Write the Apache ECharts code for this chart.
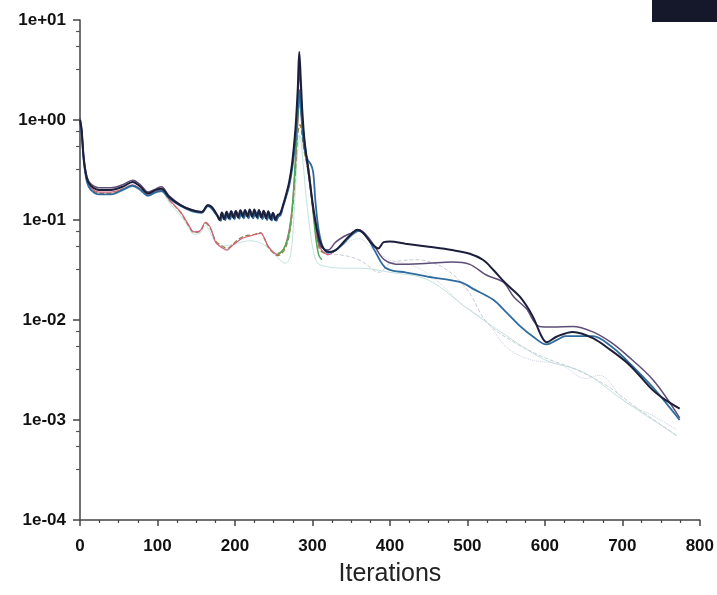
<!DOCTYPE html>
<html><head><meta charset="utf-8">
<script src="https://cdn.jsdelivr.net/npm/echarts@6/dist/echarts.min.js"></script>
<style>html,body{margin:0;padding:0;background:#fff}#c{width:717px;height:595px}</style>
</head><body><div id="c"></div>
<script>
// Residual curves: [iteration, residual]
const darkRes = [[0,1.0],[2,0.8],[5,0.4],[9,0.26],[14,0.22],[25,0.2],[40,0.2],[55,0.215],[68,0.24],[78,0.215],[88,0.185],[98,0.2],[105,0.205],[115,0.17],[130,0.14],[145,0.125],[157,0.12],[165,0.14],[170,0.135],[177,0.112],
 [180,0.1],[183,0.118],[186,0.102],[189,0.12],[192,0.104],[195,0.122],[198,0.105],[201,0.123],[204,0.106],[207,0.125],[210,0.108],[213,0.126],[216,0.108],[219,0.127],[222,0.108],[225,0.127],[228,0.107],[231,0.126],[234,0.106],[237,0.124],[240,0.104],[243,0.122],[246,0.102],[249,0.118],[252,0.1],[255,0.112],
 [258,0.115],[262,0.14],[266,0.18],[270,0.24],[274,0.38],[278,0.8],[281,2.0],[283,4.8],[285,2.5],[287,1.2],[290,0.6],[294,0.35],[298,0.2],[302,0.12],[306,0.08],[310,0.06],[316,0.05],[322,0.048],[330,0.05],[340,0.06],[350,0.072],[358,0.08],[365,0.075],[375,0.06],[385,0.052],[392,0.06],[400,0.061],[420,0.058],[450,0.054],[480,0.05],[503,0.046],[520,0.04],[533,0.032],[550,0.023],[568,0.017],[584,0.011],[596,0.0068],[602,0.006],[615,0.0068],[636,0.0076],[662,0.0066],[685,0.005],[705,0.0038],[720,0.0029],[739,0.002],[755,0.0016],[774,0.0013]];
const blueRes = [[0,0.95],[2,0.75],[5,0.38],[9,0.24],[14,0.2],[25,0.18],[40,0.18],[55,0.2],[68,0.22],[78,0.2],[88,0.175],[98,0.19],[105,0.195],[115,0.165],[130,0.138],[145,0.122],[157,0.118],[165,0.138],[170,0.13],[177,0.11],
 [181.5,0.098],[184.5,0.115],[187.5,0.1],[190.5,0.117],[193.5,0.101],[196.5,0.119],[199.5,0.102],[202.5,0.12],[205.5,0.103],[208.5,0.121],[211.5,0.104],[214.5,0.121],[217.5,0.104],[220.5,0.122],[223.5,0.104],[226.5,0.121],[229.5,0.103],[232.5,0.12],[235.5,0.102],[238.5,0.119],[241.5,0.1],[244.5,0.117],[247.5,0.099],[250.5,0.114],[253.5,0.098],[256,0.108],
 [259,0.112],[262,0.135],[266,0.17],[270,0.22],[274,0.33],[278,0.6],[281,1.2],[283,2.0],[285,1.4],[287,0.8],[290,0.5],[294,0.4],[298,0.36],[301,0.3],[304,0.15],[308,0.08],[313,0.055],[320,0.047],[330,0.05],[340,0.058],[350,0.07],[360,0.078],[370,0.068],[380,0.05],[393,0.034],[405,0.031],[420,0.03],[450,0.027],[490,0.024],[510,0.02],[533,0.016],[550,0.012],[568,0.0087],[585,0.0068],[602,0.0057],[615,0.0063],[627,0.0069],[662,0.0069],[685,0.0055],[705,0.004],[740,0.0021],[774,0.001]];
const purpleRes = [[0,1.05],[2,0.85],[5,0.42],[9,0.27],[14,0.23],[25,0.21],[40,0.21],[55,0.225],[68,0.25],[78,0.225],[88,0.19],[98,0.205],[105,0.215],[115,0.175],[130,0.142],[145,0.126],[157,0.121],[165,0.142],[170,0.136],[177,0.113],
 [180.5,0.103],[183.5,0.12],[186.5,0.104],[189.5,0.122],[192.5,0.105],[195.5,0.123],[198.5,0.106],[201.5,0.124],[204.5,0.107],[207.5,0.125],[210.5,0.108],[213.5,0.125],[216.5,0.108],[219.5,0.126],[222.5,0.108],[225.5,0.125],[228.5,0.107],[231.5,0.124],[234.5,0.106],[237.5,0.123],[240.5,0.105],[243.5,0.12],[246.5,0.103],[249.5,0.117],[252.5,0.102],[255.5,0.11],
 [259,0.115],[262,0.14],[266,0.175],[270,0.23],[274,0.36],[278,0.7],[281,1.6],[283,3.0],[285,2.0],[287,1.0],[290,0.55],[294,0.33],[298,0.19],[302,0.11],[306,0.075],[310,0.055],[320,0.05],[330,0.06],[340,0.068],[350,0.074],[360,0.08],[370,0.07],[380,0.055],[393,0.04],[413,0.036],[450,0.037],[480,0.038],[503,0.036],[525,0.028],[546,0.024],[560,0.017],[576,0.013],[593,0.0086],[610,0.0085],[636,0.0086],[662,0.0076],[685,0.006],[705,0.0045],[740,0.0025],[774,0.00105]];
const redRes = [[0,1.0],[2,0.8],[5,0.4],[9,0.25],[14,0.21],[25,0.19],[40,0.19],[55,0.205],[68,0.225],[78,0.205],[88,0.18],[98,0.195],[105,0.2],[115,0.16],[130,0.12],[140,0.09],[147,0.076],[155,0.078],[162,0.095],[168,0.085],[175,0.06],[180,0.055],[185,0.052],[190,0.05],[195,0.054],[200,0.058],[207,0.064],[215,0.068],[222,0.07],[228,0.072],[233,0.074],[238,0.066],[242,0.056],[248,0.049],[255,0.045],[260,0.048],[265,0.056],[270,0.08],[274,0.14],[278,0.35],[281,0.9],[283,1.4],[285,1.2],[288,0.7],[292,0.45],[296,0.3],[300,0.15],[303,0.09],[307,0.06],[312,0.05],[320,0.045],[330,0.05]];
const redTail = [[330,0.05],[345,0.06],[360,0.065],[380,0.05],[400,0.04],[430,0.035],[460,0.025],[490,0.015],[525,0.0095],[551,0.0053],[582,0.004],[620,0.0036],[653,0.0026],[670,0.0028],[705,0.0015],[740,0.0011],[770,0.0008]];
const oliveRes = [[0,0.98],[2,0.78],[5,0.39],[9,0.245],[14,0.205],[25,0.185],[40,0.185],[55,0.2],[68,0.22],[78,0.2],[88,0.176],[98,0.19],[105,0.196],[115,0.158],[130,0.118],[140,0.088],[147,0.075],[155,0.077],[162,0.093],[168,0.083],[175,0.062],[180,0.057],[185,0.054],[190,0.052],[195,0.055],[200,0.06],[207,0.066],[215,0.07],[222,0.071],[228,0.073],[233,0.075],[238,0.065],[242,0.055],[248,0.048],[255,0.044],[260,0.046],[265,0.052],[270,0.07],[274,0.12],[278,0.3],[281,0.7],[284,0.9],[286,0.75],[289,0.5],[293,0.35],[297,0.22],[301,0.12],[305,0.07],[310,0.05],[320,0.045]];
const oliveTail = [[320,0.045],[330,0.045],[360,0.04],[387,0.03],[400,0.037],[435,0.04],[470,0.033],[500,0.02],[525,0.0095],[560,0.006],[600,0.0042],[640,0.0032],[680,0.0022],[720,0.0013],[770,0.0007]];
const greenRes = [[255,0.046],[260,0.048],[265,0.055],[270,0.075],[274,0.13],[278,0.4],[281,1.0],[283,1.6],[285,1.3],[288,0.8],[292,0.45],[296,0.28],[300,0.14],[304,0.07],[308,0.045],[312,0.04]];
const cyanRes = [[0,0.97],[2,0.77],[5,0.38],[9,0.24],[14,0.2],[25,0.18],[40,0.18],[55,0.195],[68,0.215],[78,0.195],[88,0.172],[98,0.185],[105,0.19],[115,0.15],[130,0.11],[140,0.085],[147,0.072],[155,0.074],[162,0.088],[168,0.075],[175,0.06],[185,0.055],[200,0.058],[220,0.062],[240,0.055],[255,0.042],[265,0.037],[272,0.045],[277,0.15],[281,0.5],[284,0.7],[287,0.45],[291,0.2],[296,0.09],[301,0.05],[307,0.037],[320,0.034],[340,0.033],[360,0.033],[400,0.03],[450,0.025],[500,0.013],[550,0.007],[600,0.004],[650,0.003],[700,0.0016],[770,0.0007]];
const xTicks = [0,100,200,300,400,500,600,700,800];

const mk = (name, data, color, width, z, type) => ({
  name, type: 'line', data, smooth: 0.35, showSymbol: false, z,
  lineStyle: { color, width, type: type || 'solid' }
});

const chart = echarts.init(document.getElementById('c'), null, { renderer: 'canvas' });
chart.setOption({
  animation: false,
  backgroundColor: '#ffffff',
  grid: { left: 80, right: 17, top: 20, bottom: 75 },
  graphic: [{ type: 'rect', shape: { x: 652, y: 0, width: 65, height: 22 }, style: { fill: '#15172a' } }],
  xAxis: {
    type: 'value', min: 0, max: 800, interval: 100,
    name: 'Iterations', nameLocation: 'middle', nameGap: 42,
    nameTextStyle: { fontFamily: 'Liberation Sans, Arial, sans-serif', fontSize: 25, color: '#222' },
    axisLine: { lineStyle: { color: '#444', width: 1.5 } },
    axisTick: { show: true, length: 6, lineStyle: { color: '#444', width: 1.5 } },
    minorTick: { show: true, splitNumber: 4, length: 3, lineStyle: { color: '#444', width: 1.2 } },
    splitLine: { show: false },
    axisLabel: { margin: 18, fontFamily: 'Liberation Sans, Arial, sans-serif', fontWeight: 'bold', fontSize: 17, color: '#111',
      formatter: v => xTicks.includes(v) ? String(v) : '' }
  },
  yAxis: {
    type: 'log', logBase: 10, min: 1e-4, max: 10,
    axisLine: { show: true, lineStyle: { color: '#444', width: 1.5 } },
    axisTick: { show: true, length: 7, lineStyle: { color: '#444', width: 1.5 } },
    minorTick: { show: true, splitNumber: 4, length: 4, lineStyle: { color: '#555', width: 1.2 } },
    splitLine: { show: false },
    axisLabel: { margin: 14, fontFamily: 'Liberation Sans, Arial, sans-serif', fontWeight: 'bold', fontSize: 17, color: '#111',
      formatter: v => v.toExponential(0).replace(/e([+-])(\d)$/, 'e$10$2') }
  },
  series: [
    mk('k', cyanRes, '#c2e3de', 1, 1),
    mk('energy-tail', oliveTail, '#c9ccd8', 1, 1, 'dashed'),
    mk('y-velocity-tail', redTail, '#cdd2e0', 1, 1, 'dotted'),
    mk('energy', oliveRes, '#8e7f3c', 1.2, 2, 'dashed'),
    mk('y-velocity', redRes, '#d0607c', 1.2, 3),
    mk('z-velocity', greenRes, '#4eaa58', 1.5, 4),
    mk('x-velocity', purpleRes, '#5e4d78', 1.5, 5),
    mk('epsilon', blueRes, '#2e6b9e', 1.8, 6),
    mk('continuity', darkRes, '#1c1f3a', 2, 7)
  ]
});
</script></body></html>
